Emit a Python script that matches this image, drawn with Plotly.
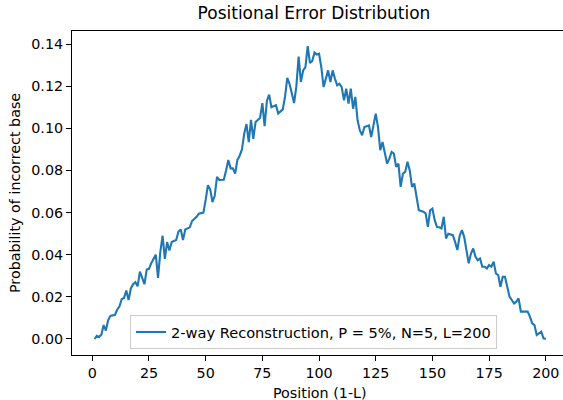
import plotly.graph_objects as go

positions = list(range(1, 201))
error_prob = [
    0.000, 0.0015, 0.001, 0.002, 0.0066, 0.004, 0.009, 0.011, 0.0112, 0.0115,
    0.014, 0.0155, 0.019, 0.0195, 0.023, 0.0185, 0.024, 0.026, 0.027, 0.025,
    0.032, 0.029, 0.026, 0.033, 0.0333, 0.036, 0.038, 0.040, 0.029, 0.0414,
    0.049, 0.038, 0.046, 0.042, 0.046, 0.0465, 0.047, 0.051, 0.052, 0.047,
    0.052, 0.0525, 0.053, 0.056, 0.057, 0.058, 0.0595, 0.0596, 0.060, 0.066,
    0.073, 0.071, 0.065, 0.068, 0.077, 0.0755, 0.0754, 0.0756, 0.080, 0.085,
    0.081, 0.081, 0.0785, 0.085, 0.087, 0.090, 0.0975, 0.102, 0.0935, 0.104,
    0.095, 0.103, 0.104, 0.105, 0.112, 0.101, 0.113, 0.116, 0.110, 0.1105,
    0.111, 0.107, 0.108, 0.109, 0.115, 0.124, 0.121, 0.116, 0.112, 0.120,
    0.134, 0.122, 0.1275, 0.129, 0.139, 0.131, 0.132, 0.136, 0.135, 0.1354,
    0.129, 0.1196, 0.1243, 0.1275, 0.122, 0.1275, 0.1236, 0.1204, 0.1212, 0.1196,
    0.1133, 0.1188, 0.1117, 0.1188, 0.1093, 0.1149, 0.1038, 0.099, 0.0967, 0.1006,
    0.101, 0.1014, 0.0959, 0.1022, 0.107, 0.1006, 0.0896, 0.0935, 0.088, 0.0833,
    0.0856, 0.0888, 0.088, 0.0817, 0.0833, 0.0722, 0.0785, 0.0793, 0.0841, 0.080,
    0.0722, 0.0738, 0.0675, 0.0611, 0.0608, 0.0604, 0.0596, 0.0532, 0.0611, 0.0619,
    0.0564, 0.0532, 0.053, 0.0525, 0.058, 0.0477, 0.050, 0.0495, 0.0493, 0.0461,
    0.0422, 0.049, 0.0517, 0.0485, 0.0422, 0.0359, 0.0406, 0.043, 0.039, 0.0374,
    0.0382, 0.0343, 0.0343, 0.0335, 0.0351, 0.0343, 0.0367, 0.0311, 0.0303, 0.0248,
    0.0295, 0.0295, 0.0248, 0.0201, 0.0185, 0.0169, 0.0177, 0.0193, 0.013, 0.013,
    0.013, 0.013, 0.0106, 0.0074, 0.0066, 0.0019, 0.0027, 0.0035, 0.0003, 0.0,
]

x_ticks = [0, 25, 50, 75, 100, 125, 150, 175, 200]
y_ticks = [0.00, 0.02, 0.04, 0.06, 0.08, 0.10, 0.12, 0.14]
series_name = "2-way Reconstruction, P = 5%, N=5, L=200"

FONT = "DejaVu Sans"
FS = 14.3
W, H = 563, 400
L, T, R = 72, 31, 0
B = H - 355
pw = W - L - R
ph = H - T - B

fig = go.Figure()
fig.add_trace(go.Scatter(
    x=positions, y=error_prob, mode="lines", name=series_name,
    line=dict(color="#1f77b4", width=2.1),
    showlegend=True,
))

fig.update_layout(
    width=W, height=H,
    margin=dict(l=L, r=R, t=T, b=B, pad=0),
    paper_bgcolor="white", plot_bgcolor="white",
    font=dict(family=FONT, size=FS, color="black"),
    title=dict(text="Positional Error Distribution", x=314 / W, xanchor="center",
               y=1 - 13 / H, yanchor="middle", yref="container",
               font=dict(family=FONT, size=17, color="black")),
    showlegend=True,
    legend=dict(x=(130 - L) / pw, xanchor="left", y=6 / ph, yanchor="bottom",
                bordercolor="#cccccc", borderwidth=1, bgcolor="rgba(255,255,255,0.8)",
                font=dict(family=FONT, size=14.6, color="black"),
                itemwidth=30, tracegroupgap=0),
    xaxis=dict(range=[-8.95, -8.95 + pw / 2.2675], tickvals=x_ticks,
               ticktext=[str(v) for v in x_ticks],
               showgrid=False, zeroline=False, showline=True, linecolor="black",
               linewidth=1.1, mirror=True, ticks="outside", ticklen=5, tickwidth=1.1,
               tickcolor="black", tickfont=dict(family=FONT, size=FS, color="black")),
    yaxis=dict(range=[-0.0076, 0.1462], tickvals=y_ticks,
               ticktext=[f"{v:.2f}" for v in y_ticks],
               showgrid=False, zeroline=False, showline=True, linecolor="black",
               linewidth=1.1, mirror=False, ticks="outside", ticklen=5, tickwidth=1.1,
               tickcolor="black", tickfont=dict(family=FONT, size=FS, color="black")),
    annotations=[
        dict(text="Position (1-L)", xref="paper", yref="paper",
             x=(319.6 - L) / pw, y=(355 - 393) / ph, xanchor="center", yanchor="middle",
             showarrow=False, font=dict(family=FONT, size=FS, color="black")),
        dict(text="Probability of incorrect base", xref="paper", yref="paper",
             x=(15 - L) / pw, y=0.5, xanchor="center", yanchor="middle", textangle=-90,
             showarrow=False, font=dict(family=FONT, size=FS, color="black")),
    ],
)

fig.write_html(
    "out.html",
    config={"displayModeBar": False},
    post_script="document.body.style.margin='0px';document.body.style.padding='0px';",
)
